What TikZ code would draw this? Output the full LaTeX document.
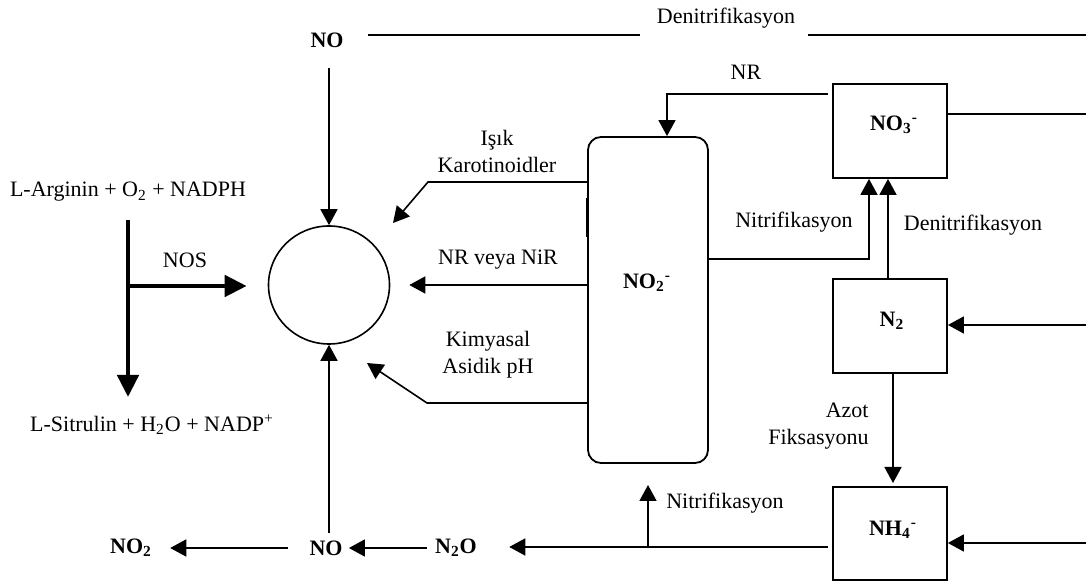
\documentclass[tikz,border=0pt]{standalone}
\usepackage{fontspec}
\setmainfont{Liberation Serif}
\usetikzlibrary{arrows.meta,shapes.geometric}

\tikzset{
  arr/.style={line width=0.8pt,-{Triangle[length=8pt,width=8.5pt]}},
  bigarr/.style={line width=2.3pt,-{Triangle[length=11pt,width=10.5pt]}},
  plain/.style={line width=0.8pt},
  box/.style={draw,line width=0.9pt,minimum width=57pt,minimum height=47pt,inner sep=0pt},
  chem/.style={font=\fontsize{11pt}{13.5pt}\selectfont\bfseries,inner sep=0pt},
  txt/.style={inner sep=0pt,align=center}
}

\begin{document}
\begin{tikzpicture}[x=0.5pt,y=-0.5pt,font=\fontsize{11pt}{13.5pt}\selectfont]
\useasboundingbox (0,0) rectangle (1086,581);

% top
\node[chem] (notop) at (327,40) {NO};
\node[txt] (denit1) at (726,18) {Denitrifikasyon};
\draw[plain] (368,35) -- (640,35) (808,35) -- (1086,35);

\node[draw,ellipse,line width=0.8pt,inner sep=0pt,minimum width=60.5pt,minimum height=59pt] (nocirc) at (329,285) {};
\draw[arr] (329,68) -- (nocirc.north);

% NOS reaction
\node[txt] (arg) at (128,192) {L-Arginin + O\textsubscript{2} + NADPH};
\node[txt] (sit) at (152,425) {L-Sitrulin + H\textsubscript{2}O + NADP\textsuperscript{+}};
\node[txt] (nos) at (185,260) {NOS};
\draw[bigarr] ([yshift=-9pt]arg.south) -- (128,397);
\draw[bigarr] (128,286) -- ([xshift=-10.5pt]nocirc.west |- 0,286);

% nitrite
\node[draw,rounded corners=6.5pt,line width=0.9pt,minimum width=60pt,minimum height=163pt] (no2box) at (648,300) {};
\node[chem] (no2l) at (647,283) {NO\textsubscript{2}\textsuperscript{-}};
\draw[plain] (586.5,198) -- (586.5,237);

\node[txt] (isik) at (497,151) {Işık\\Karotinoidler};
\node[txt] (nrnir) at (498,260) {NR veya NiR};
\node[txt] (kimya) at (488,355) {Kimyasal\\Asidik pH};
\draw[arr] (no2box.west |- 0,182) -- (428,182) -- (393,223);
\draw[arr] (no2box.west |- 0,285) -- ([xshift=9.5pt]nocirc.east |- 0,285);
\draw[arr] (no2box.west |- 0,403) -- (427,403) -- (367,363);

% right column
\node[box] (no3box) at (890,131) {};
\node[chem] (no3l) at (894,125) {NO\textsubscript{3}\textsuperscript{-}};
\node[box] (n2box) at (890,326) {};
\node[chem] (n2l) at (892,321) {N\textsubscript{2}};
\node[box,minimum height=46.5pt] (nh4box) at (890,533.5) {};
\node[chem] (nh4l) at (893,530) {NH\textsubscript{4}\textsuperscript{-}};

\node[txt] (nrl) at (746,72) {NR};
\draw[arr] ([xshift=-2pt]no3box.west |- 0,94) -| (667,0 |- no2box.north);
\draw[plain] (no3box.east |- 0,114) -- (1086,114);
\node[txt] (nitr1) at (794,222) {Nitrifikasyon};
\draw[arr] (no2box.east |- 0,259) -| (869,0 |- no3box.south);
\node[txt] (denit2) at (973,225) {Denitrifikasyon};
\draw[arr] (888,0 |- n2box.north) -- (888,0 |- no3box.south);
\draw[arr] (1086,325) -- (n2box.east |- 0,325);
\node[txt,align=right,anchor=east] (azot) at (869,426) {Azot\\Fiksasyonu};
\draw[arr] (893,0 |- n2box.south) -- (893,483);
\draw[arr] (1086,543) -- (nh4box.east |- 0,543);

% bottom row
\node[chem] (nobot) at (326,548) {NO};
\node[chem] (no2gas) at (131,548) {NO\textsubscript{2}};
\node[chem] (n2o) at (456,548) {N\textsubscript{2}O};
\draw[arr] ([xshift=-2pt]nh4box.west |- 0,547) -- ([xshift=16pt]n2o.east |- 0,547);
\node[txt] (nitr2) at (725,503) {Nitrifikasyon};
\draw[arr] (648,547) -- (648,485);
\draw[arr] ([xshift=-4pt]n2o.west) -- ([xshift=3pt]nobot.east);
\draw[arr] ([xshift=-10.5pt]nobot.west) -- ([xshift=9pt]no2gas.east);
\draw[arr] (329,533) -- (nocirc.south);
\end{tikzpicture}
\end{document}
